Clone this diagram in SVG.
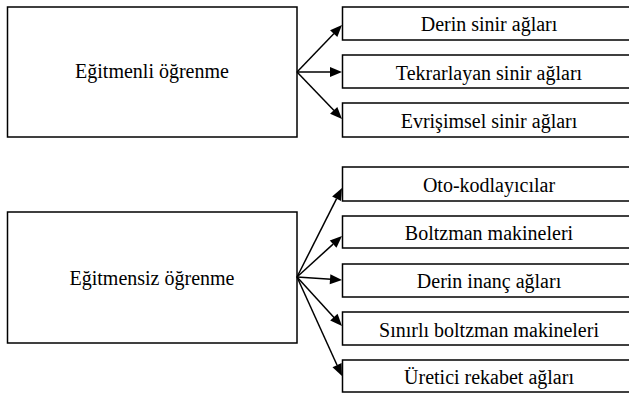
<svg xmlns="http://www.w3.org/2000/svg" width="629" height="394" viewBox="0 0 629 394">
  <style>
    .box { fill: #ffffff; stroke: #000000; stroke-width: 1.5; }
    .lbl { font-family: 'Liberation Serif', 'DejaVu Serif', serif; font-size: 20px; fill: #000000; text-anchor: middle; }
    .edge { stroke: #000000; stroke-width: 1.5; fill: none; }
    .head { fill: #000000; stroke: none; }
  </style>
  <defs>
    <!-- filled arrowhead, tip at the origin pointing along +x -->
    <path id="ah" d="M0,0 L-12,-5 L-12,5 Z"/>
  </defs>
  <rect width="629" height="394" fill="#ffffff"/>

  <!-- supervised learning -->
  <g id="egitmenli">
    <rect class="box" x="7.5" y="7" width="289.5" height="130"/>
    <text class="lbl" x="152" y="78">Eğitmenli öğrenme</text>
  </g>
  <g id="derin-sinir">
    <rect class="box" x="342.5" y="7" width="300" height="33"/>
    <text class="lbl" x="489" y="31">Derin sinir ağları</text>
  </g>
  <g id="tekrarlayan">
    <rect class="box" x="342.5" y="55" width="300" height="33"/>
    <text class="lbl" x="489" y="79.5">Tekrarlayan sinir ağları</text>
  </g>
  <g id="evrisimsel">
    <rect class="box" x="342.5" y="103" width="300" height="34"/>
    <text class="lbl" x="489" y="128">Evrişimsel sinir ağları</text>
  </g>

  <!-- unsupervised learning -->
  <g id="egitmensiz">
    <rect class="box" x="7.5" y="212" width="289.5" height="131"/>
    <text class="lbl" x="152" y="285">Eğitmensiz öğrenme</text>
  </g>
  <g id="oto-kodlayicilar">
    <rect class="box" x="342.5" y="167" width="300" height="34"/>
    <text class="lbl" x="489" y="192">Oto-kodlayıcılar</text>
  </g>
  <g id="boltzman">
    <rect class="box" x="342.5" y="216" width="300" height="32"/>
    <text class="lbl" x="489" y="240">Boltzman makineleri</text>
  </g>
  <g id="derin-inanc">
    <rect class="box" x="342.5" y="264" width="300" height="33"/>
    <text class="lbl" x="489" y="288">Derin inanç ağları</text>
  </g>
  <g id="sinirli-boltzman">
    <rect class="box" x="342.5" y="312" width="300" height="33"/>
    <text class="lbl" x="489" y="336.5">Sınırlı boltzman makineleri</text>
  </g>
  <g id="uretici-rekabet">
    <rect class="box" x="342.5" y="360" width="300" height="32"/>
    <text class="lbl" x="489" y="384">Üretici rekabet ağları</text>
  </g>

  <g id="connectors">
    <!-- shafts stop at the arrowhead base -->
    <line class="edge" x1="297" y1="72" x2="334" y2="33.4"/>
    <line class="edge" x1="297" y1="72" x2="331" y2="72"/>
    <line class="edge" x1="297" y1="72" x2="334" y2="110.6"/>
    <line class="edge" x1="297" y1="277" x2="336.6" y2="198.7"/>
    <line class="edge" x1="297" y1="277" x2="333.1" y2="244.1"/>
    <line class="edge" x1="297" y1="277" x2="331" y2="279.3"/>
    <line class="edge" x1="297" y1="277" x2="334.2" y2="317.8"/>
    <line class="edge" x1="297" y1="277" x2="337.1" y2="365.2"/>
    <use class="head" href="#ah" transform="translate(342,25) rotate(-46.2)"/>
    <use class="head" href="#ah" transform="translate(342,72)"/>
    <use class="head" href="#ah" transform="translate(342,119) rotate(46.2)"/>
    <use class="head" href="#ah" transform="translate(342,188) rotate(-63.2)"/>
    <use class="head" href="#ah" transform="translate(342,236) rotate(-42.3)"/>
    <use class="head" href="#ah" transform="translate(342,280) rotate(3.8)"/>
    <use class="head" href="#ah" transform="translate(342,326) rotate(47.4)"/>
    <use class="head" href="#ah" transform="translate(342,376) rotate(65.6)"/>
  </g>
</svg>
